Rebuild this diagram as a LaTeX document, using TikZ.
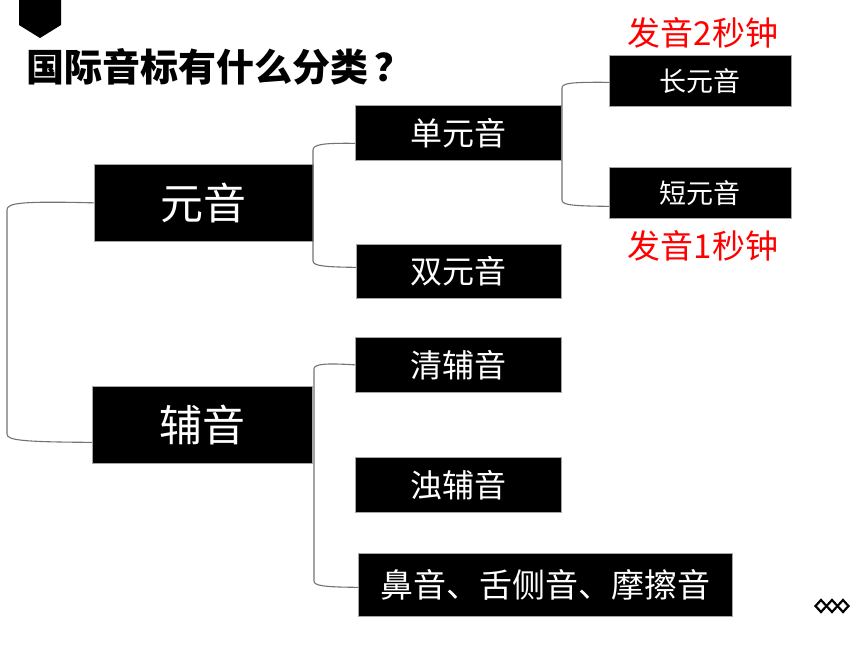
\documentclass[tikz,border=0pt]{standalone}
\usepackage{fontspec}
\newfontfamily\cjk{Noto Sans CJK SC}
\begin{document}
\begin{tikzpicture}[x=1pt,y=-1pt,
  blackbox/.style={fill=black,draw=gray!70,line width=0.7pt,text=white,inner sep=0pt,anchor=north west},
  conn/.style={draw=gray!90!black,line width=1.1pt},
  redtxt/.style={text=red,inner sep=0pt,font=\cjk\fontsize{33}{33}\selectfont},
  fsA/.style={font=\cjk\fontsize{43}{43}\selectfont},
  fsB/.style={font=\cjk\fontsize{32}{32}\selectfont},
  fsC/.style={font=\cjk\fontsize{27}{27}\selectfont},
  fsD/.style={font=\cjk\fontsize{33}{33}\selectfont}]
\useasboundingbox (0,0) rectangle (860,645);
% top-left marker
\fill[black] (19,0) -- (61,0) -- (61,25) -- (40,38) -- (19,25) -- cycle;
% title
\node[anchor=west,inner sep=0pt,font=\cjk\bfseries\fontsize{38}{38}\selectfont] (title) at (26,67) {国际音标有什么分类\,？};
% boxes
\node[blackbox,fsA,minimum width=219,minimum height=77] (yuan) at (94,164) {元音};
\node[blackbox,fsA,minimum width=220,minimum height=77] (fu) at (92,386) {辅音};
\node[blackbox,fsB,minimum width=206,minimum height=55] (dan) at (355,105) {单元音};
\node[blackbox,fsB,minimum width=205,minimum height=54] (shuang) at (356,244) {双元音};
\node[blackbox,fsC,minimum width=182,minimum height=51] (chang) at (609,55) {长元音};
\node[blackbox,fsC,minimum width=182,minimum height=51] (duan) at (609,167) {短元音};
\node[blackbox,fsB,minimum width=206,minimum height=55] (qing) at (355,337) {清辅音};
\node[blackbox,fsB,minimum width=206,minimum height=55] (zhuo) at (355,457) {浊辅音};
\node[blackbox,fsD,minimum width=374,minimum height=63] (bi) at (358,553) {鼻音、舌侧音、摩擦音};
% red labels
\node[redtxt] (t2) at (703,33) {发音2秒钟};
\node[redtxt] (t1) at (703,246) {发音1秒钟};
% connectors
\draw[conn] (yuan.west) .. controls (20,201) and (7,203) .. (7,210) -- (7,434) .. controls (7,440) and (20,442) .. ([yshift=-17.5pt]fu.west);
\draw[conn] ([yshift=-10.5pt]dan.west) .. controls (325,143) and (313,144) .. (313,150) -- (313,261) .. controls (313,266) and (325,267) .. ([yshift=4pt]shuang.west);
\draw[conn] ([yshift=-1.5pt]chang.west) .. controls (572,82) and (562,83) .. (562,88) -- (562,200) .. controls (562,205) and (572,206) .. ([yshift=-13.5pt]duan.west);
\draw[conn] (qing.west) .. controls (325,363) and (314,364) .. (314,369) -- (314,581) .. controls (314,586) and (325,587) .. ([yshift=-2.5pt]bi.west);
% bottom-right ornament
\foreach \cx/\nm in {821/d1,832/d2,843/d3}{
  \draw[black,line width=2.2pt] (\cx,600) -- (\cx+5.5,606) -- (\cx,612) -- (\cx-5.5,606) -- cycle;
}
\end{tikzpicture}
\end{document}
